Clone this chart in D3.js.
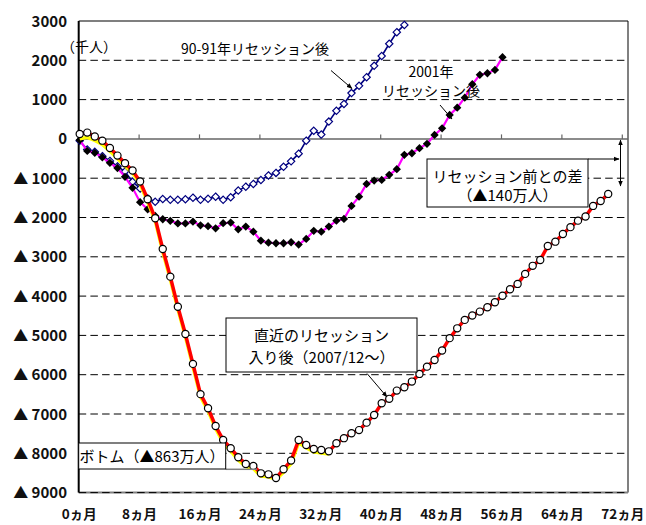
<!DOCTYPE html>
<html>
<head>
<meta charset="utf-8">
<script src="https://cdn.jsdelivr.net/npm/d3@7"></script>
<style>
  body { margin: 0; background: #fff; }
  svg text { font-family: "Noto Sans CJK JP", "DejaVu Sans", sans-serif; }
</style>
</head>
<body>
<div id="chart"></div>
<script>
// months after the start of each recession
const monthTicks = [0, 8, 16, 24, 32, 40, 48, 56, 64, 72];
const valueTicks = [3000, 2000, 1000, 0, -1000, -2000, -3000, -4000, -5000, -6000, -7000, -8000, -9000];
const gridValues = [2000, 1000, -1000, -2000, -3000, -4000, -5000, -6000, -7000, -8000, -9000];

// employment change vs. recession start (thousand persons), month 0..n
const recession1990 = [
  -50, -270, -330, -440, -560, -700, -830, -1090, -1260, -1510,
  -1600, -1530, -1550, -1550, -1535, -1495, -1550, -1525, -1470, -1550,
  -1485, -1315, -1215, -1145, -1045, -930, -865, -710, -570, -375,
  -45, 205, 110, 440, 715, 890, 1165, 1350, 1570, 1860,
  2110, 2420, 2715, 2900
];
const recession2001 = [
  -30, -305, -355, -470, -610, -740, -965, -1245, -1610, -1790,
  -1960, -2045, -2085, -2150, -2150, -2105, -2200, -2220, -2275, -2145,
  -2130, -2300, -2230, -2360, -2590, -2640, -2655, -2655, -2630, -2690,
  -2545, -2340, -2360, -2230, -2080, -2035, -1705, -1470, -1145, -1060,
  -1045, -915, -770, -405, -365, -235, -125, 100, 270, 610,
  795, 1050, 1390, 1630, 1670, 1755, 2080
];
const recession2007 = [
  125, 160, 60, -45, -230, -425, -620, -805, -1085, -1535,
  -2020, -2800, -3505, -4270, -4965, -5725, -6495, -6855, -7305, -7660,
  -7870, -8100, -8270, -8320, -8510, -8535, -8630, -8405, -8185, -7660,
  -7790, -7890, -7915, -7950, -7745, -7615, -7490, -7410, -7220, -7025,
  -6725, -6615, -6405, -6320, -6175, -5980, -5795, -5625, -5385, -5070,
  -4820, -4605, -4495, -4395, -4285, -4155, -3990, -3825, -3690, -3435,
  -3230, -3080, -2725, -2615, -2420, -2245, -2080, -1975, -1705, -1580,
  -1400
];
// earlier estimate of the same series, drawn in yellow beneath the red line
const recession2007Prev = [
  0, 40, -40, -140, -310, -500, -690, -870, -1150, -1600,
  -2080, -2870, -3570, -4330, -5030, -5790, -6560, -6920, -7370, -7730,
  -7940, -8170, -8340, -8390, -8580, -8600, -8660, -8480, -8260, -7730,
  -7860, -7960, -7990, -8020
];

function drawChart() {
  const W = 646, H = 525;
  const plot = { left: 78.7, right: 628, top: 21, bottom: 492.6 };

  const svg = d3.select("#chart").append("svg")
    .attr("width", W)
    .attr("height", H);

  const x = d3.scaleLinear().domain([0, 72]).range([79.7, 623.3]);
  const y = d3.scaleLinear().domain([-9000, 3000]).range([plot.bottom, plot.top]);

  const defs = svg.append("defs");
  defs.append("marker")
    .attr("id", "arrow")
    .attr("viewBox", "0 0 10 10")
    .attr("refX", 9).attr("refY", 5)
    .attr("markerWidth", 6).attr("markerHeight", 6)
    .attr("orient", "auto-start-reverse")
    .append("path")
    .attr("d", "M0,1 L10,5 L0,9 z")
    .attr("fill", "#000");

  // frame
  svg.append("line")
    .attr("x1", plot.right).attr("x2", plot.right)
    .attr("y1", plot.top).attr("y2", plot.bottom)
    .attr("stroke", "#808080").attr("stroke-width", 2);
  svg.append("line")
    .attr("x1", plot.left).attr("x2", plot.right)
    .attr("y1", plot.bottom).attr("y2", plot.bottom)
    .attr("stroke", "#808080").attr("stroke-width", 2);
  svg.append("line")
    .attr("x1", plot.left).attr("x2", plot.right)
    .attr("y1", plot.top).attr("y2", plot.top)
    .attr("stroke", "#000").attr("stroke-width", 1.2);

  // dashed gridlines
  svg.append("g").selectAll("line")
    .data(gridValues)
    .enter().append("line")
    .attr("x1", plot.left).attr("x2", plot.right)
    .attr("y1", d => y(d)).attr("y2", d => y(d))
    .attr("stroke", "#000")
    .attr("stroke-width", 1)
    .attr("stroke-dasharray", "7.5,4.2");

  // zero line with month ticks
  svg.append("line")
    .attr("x1", plot.left).attr("x2", plot.right)
    .attr("y1", y(0)).attr("y2", y(0))
    .attr("stroke", "#666").attr("stroke-width", 1.5);
  svg.append("g").selectAll("line")
    .data(monthTicks.slice(1))
    .enter().append("line")
    .attr("x1", d => x(d) - 1).attr("x2", d => x(d) - 1)
    .attr("y1", y(0)).attr("y2", y(0) - 4.5)
    .attr("stroke", "#666").attr("stroke-width", 1.2);

  // left axis
  svg.append("line")
    .attr("x1", plot.left).attr("x2", plot.left)
    .attr("y1", plot.top).attr("y2", plot.bottom)
    .attr("stroke", "#000").attr("stroke-width", 2);

  // y tick labels
  svg.append("g").selectAll("text")
    .data(valueTicks)
    .enter().append("text")
    .attr("x", 67)
    .attr("y", d => y(d) + 5.5)
    .attr("text-anchor", "end")
    .style("font-size", "15px")
    .style("font-weight", "bold")
    .style("fill", "#111")
    .text(d => d >= 0 ? d : "▲ " + (-d));

  // x tick labels
  svg.append("g").selectAll("text")
    .data(monthTicks)
    .enter().append("text")
    .attr("x", d => x(d) - 0.5)
    .attr("y", 519)
    .attr("text-anchor", "middle")
    .style("font-size", "13.5px")
    .style("font-weight", "bold")
    .style("fill", "#111")
    .text(d => d + "ヵ月");

  svg.append("text")
    .attr("x", 61).attr("y", 52)
    .style("font-size", "14px")
    .text("（千人）");

  const line = d3.line()
    .x((d, i) => x(i))
    .y(d => y(d));

  // 90-91 recession
  svg.append("path")
    .datum(recession1990)
    .attr("d", line)
    .attr("fill", "none")
    .attr("stroke", "#000080")
    .attr("stroke-width", 1.6);
  svg.append("g").selectAll("path")
    .data(recession1990)
    .enter().append("path")
    .attr("d", d3.symbol(d3.symbolDiamond2, 34))
    .attr("transform", (d, i) => `translate(${x(i)},${y(d)})`)
    .attr("fill", "#fff")
    .attr("stroke", "#000080")
    .attr("stroke-width", 1.2);

  // 2001 recession
  svg.append("path")
    .datum(recession2001)
    .attr("d", line)
    .attr("fill", "none")
    .attr("stroke", "#FF00FF")
    .attr("stroke-width", 2.2);
  svg.append("g").selectAll("path")
    .data(recession2001)
    .enter().append("path")
    .attr("d", d3.symbol(d3.symbolDiamond2, 44))
    .attr("transform", (d, i) => `translate(${x(i)},${y(d)})`)
    .attr("fill", "#000");

  // 2007/12 recession (earlier estimate underneath)
  svg.append("path")
    .datum(recession2007Prev)
    .attr("d", line)
    .attr("fill", "none")
    .attr("stroke", "#FFFF00")
    .attr("stroke-width", 3.5);
  svg.append("path")
    .datum(recession2007)
    .attr("d", line)
    .attr("fill", "none")
    .attr("stroke", "#FF0000")
    .attr("stroke-width", 3.5);
  svg.append("g").selectAll("circle")
    .data(recession2007)
    .enter().append("circle")
    .attr("cx", (d, i) => x(i))
    .attr("cy", d => y(d))
    .attr("r", 3.6)
    .attr("fill", "#fff")
    .attr("stroke", "#000")
    .attr("stroke-width", 1.2);

  // annotations
  svg.append("text")
    .attr("x", 255).attr("y", 54)
    .attr("text-anchor", "middle")
    .style("font-size", "14px")
    .text("90-91年リセッション後");
  svg.append("line")
    .attr("x1", 331).attr("y1", 70.5)
    .attr("x2", 352).attr("y2", 88.5)
    .attr("stroke", "#000").attr("stroke-width", 1)
    .attr("marker-end", "url(#arrow)");

  svg.append("text")
    .attr("x", 431).attr("y", 77)
    .attr("text-anchor", "middle")
    .style("font-size", "14px")
    .text("2001年");
  svg.append("text")
    .attr("x", 431).attr("y", 96)
    .attr("text-anchor", "middle")
    .style("font-size", "14px")
    .text("リセッション後");
  svg.append("line")
    .attr("x1", 440).attr("y1", 105)
    .attr("x2", 452).attr("y2", 119)
    .attr("stroke", "#000").attr("stroke-width", 1)
    .attr("marker-end", "url(#arrow)");

  const boxes = [
    { x: 427, y: 159, w: 161, h: 48, lines: ["リセッション前との差", "（▲140万人）"], cx: 507.5, base: [182, 201] },
    { x: 226, y: 318, w: 191, h: 54, lines: ["直近のリセッション", "入り後（2007/12～）"], cx: 321.5, base: [341, 363] },
    { x: 78.7, y: 443, w: 147, h: 26, lines: ["ボトム（▲863万人）"], cx: 152, base: [461.5] }
  ];

  // leader under the bottom box
  svg.append("line")
    .attr("x1", 225.7).attr("x2", 257)
    .attr("y1", 469.3).attr("y2", 469.3)
    .attr("stroke", "#808080").attr("stroke-width", 1.5);

  boxes.forEach(b => {
    svg.append("rect")
      .attr("x", b.x).attr("y", b.y)
      .attr("width", b.w).attr("height", b.h)
      .attr("fill", "#fff")
      .attr("stroke", "#000").attr("stroke-width", 1);
    b.lines.forEach((t, i) => {
      svg.append("text")
        .attr("x", b.cx).attr("y", b.base[i])
        .attr("text-anchor", "middle")
        .style("font-size", "15px")
        .text(t);
    });
  });

  svg.append("line")
    .attr("x1", 367).attr("y1", 373.5)
    .attr("x2", 387).attr("y2", 397)
    .attr("stroke", "#000").attr("stroke-width", 1)
    .attr("marker-end", "url(#arrow)");

  // difference arrows at the right
  svg.append("line")
    .attr("x1", 588).attr("y1", 159)
    .attr("x2", 619).attr("y2", 159)
    .attr("stroke", "#000").attr("stroke-width", 1)
    .attr("marker-end", "url(#arrow)");
  svg.append("line")
    .attr("x1", 620.5).attr("y1", 140)
    .attr("x2", 620.5).attr("y2", 186)
    .attr("stroke", "#000").attr("stroke-width", 1)
    .attr("marker-start", "url(#arrow)")
    .attr("marker-end", "url(#arrow)");
}

drawChart();
</script>
</body>
</html>
